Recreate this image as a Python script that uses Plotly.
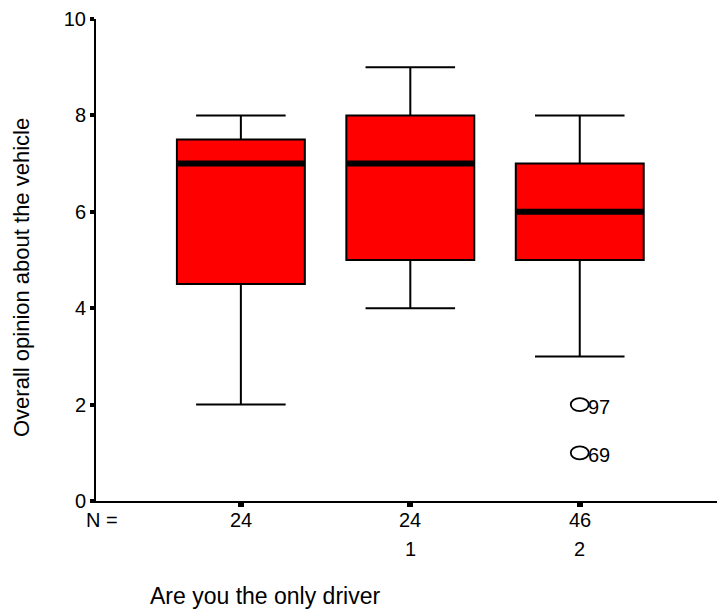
import plotly.graph_objects as go

# Data
groups = ["", "1", "2"]
n_counts = ["24", "24", "46"]
q1 = [4.5, 5, 5]
median = [7, 7, 6]
q3 = [7.5, 8, 7]
lower = [2, 4, 3]
upper = [8, 9, 8]
outlier_group = [2, 2]
outlier_vals = [2, 1]
outlier_ids = ["97", "69"]
y_ticks = [0, 2, 4, 6, 8, 10]

FONT = "Liberation Sans, Arial, sans-serif"
TICK_SIZE = 20
XTITLE_SIZE = 23
YTITLE_SIZE = 22
xpos = list(range(len(groups)))
box_w = 0.755

fig = go.Figure()
fig.add_trace(go.Box(
    x=xpos, q1=q1, median=median, q3=q3,
    lowerfence=lower, upperfence=upper,
    width=box_w, whiskerwidth=0.7,
    fillcolor="#ff0000", line=dict(color="black", width=2),
    boxpoints=False, hoverinfo="skip", showlegend=False,
))
for i, m in enumerate(median):
    fig.add_trace(go.Scatter(
        x=[xpos[i] - box_w / 2 + 0.005, xpos[i] + box_w / 2 - 0.005], y=[m, m],
        mode="lines", line=dict(color="black", width=6),
        showlegend=False, hoverinfo="skip",
    ))

shapes = []
anns = []
for gx, v, lab in zip(outlier_group, outlier_vals, outlier_ids):
    shapes.append(dict(type="circle", xref="x", yref="y", xsizemode="pixel", ysizemode="pixel",
                       xanchor=gx, yanchor=v, x0=-9, x1=9, y0=-6.5, y1=6.5,
                       line=dict(color="black", width=1.8), fillcolor="rgba(0,0,0,0)"))
    anns.append(dict(x=gx, y=v, xref="x", yref="y", text=lab, showarrow=False,
                     xanchor="left", yanchor="middle", xshift=6, yshift=-2,
                     font=dict(family=FONT, size=TICK_SIZE, color="black")))

plot_h = 612 - 19 - 111
def py(px):
    return -(px - 501) / plot_h

anns.append(dict(x=-0.855, xref="x", y=py(520), yref="paper", text="N =", showarrow=False,
                 xanchor="left", yanchor="middle", xshift=-12,
                 font=dict(family=FONT, size=TICK_SIZE, color="black")))
for i in xpos:
    anns.append(dict(x=i, xref="x", y=py(520), yref="paper", text=n_counts[i], showarrow=False,
                     xanchor="center", yanchor="middle", font=dict(family=FONT, size=TICK_SIZE, color="black")))
    if groups[i]:
        anns.append(dict(x=i, xref="x", y=py(549), yref="paper", text=groups[i], showarrow=False,
                         xanchor="center", yanchor="middle", font=dict(family=FONT, size=TICK_SIZE, color="black")))
anns.append(dict(x=(148 - 96) / 621, xref="paper", y=py(596), yref="paper", text="Are you the only driver",
                 showarrow=False, xanchor="left", yanchor="middle",
                 font=dict(family=FONT, size=XTITLE_SIZE, color="black")))
anns.append(dict(x=-75 / 621, xref="paper", y=(501 - 278) / plot_h, yref="paper",
                 text="Overall opinion about the vehicle", textangle=-90, showarrow=False,
                 xanchor="center", yanchor="middle", font=dict(family=FONT, size=YTITLE_SIZE, color="black")))

fig.update_layout(
    width=717, height=612,
    margin=dict(l=96, r=0, t=19, b=111),
    paper_bgcolor="white", plot_bgcolor="white",
    font=dict(family=FONT, size=TICK_SIZE, color="black"),
    annotations=anns, shapes=shapes,
    xaxis=dict(range=[-0.855, 2.81], tickvals=xpos, ticktext=["", "", ""],
               showline=True, linecolor="black", linewidth=2, showgrid=False, zeroline=False,
               ticks="outside", ticklen=4, tickwidth=6, tickcolor="black", showticklabels=False),
    yaxis=dict(range=[0, 10], tickvals=y_ticks, showline=True, linecolor="black", linewidth=2,
               showgrid=False, zeroline=False, ticks="outside", ticklen=4, tickwidth=4,
               tickcolor="black", tickfont=dict(family=FONT, size=TICK_SIZE, color="black")),
)
fig.write_html("out.html")
